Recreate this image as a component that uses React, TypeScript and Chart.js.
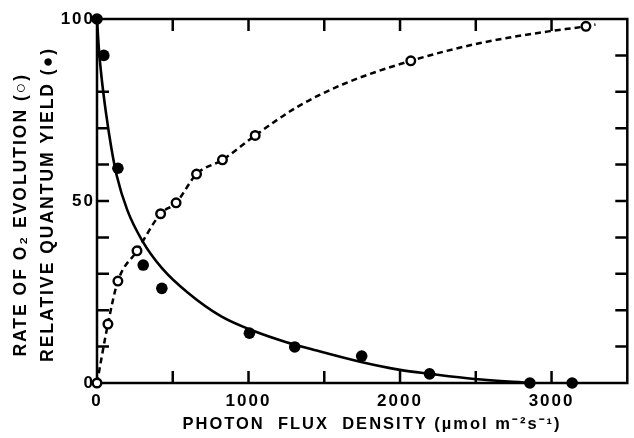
import React, { useEffect, useRef } from "react";
import { Chart, registerables } from "chart.js";

Chart.register(...registerables);

// relative quantum yield (filled dots)
const yieldFlux = [0, 45, 138, 305, 428, 1006, 1305, 1747, 2195, 2857, 3136];
const yieldValues = [100, 90, 59, 32.4, 26, 13.7, 9.9, 7.4, 2.5, 0, 0];

// rate of O2 evolution (open circles)
const o2Flux = [0, 72, 138, 264, 420, 522, 657, 828, 1044, 2071, 3227];
const o2Values = [0, 16.2, 28, 36.3, 46.5, 49.5, 57.4, 61.3, 68, 88.5, 98];

// fitted curves
const yieldCurveFlux = [0, 12, 30, 60, 95, 130, 200, 300, 430, 600, 820, 1040, 1250, 1450, 1750, 2000, 2200, 2490, 2870];
const yieldCurveValues = [100, 92, 84, 74, 64.5, 57, 47.5, 39, 31.5, 24.8, 18.3, 14.2, 11.2, 8.9, 5.7, 3.6, 2.5, 1.1, 0];
const o2CurveFlux = [0, 72, 138, 264, 420, 522, 657, 828, 1044, 1320, 1620, 2071, 2530, 2980, 3227, 3290];
const o2CurveValues = [0, 16.2, 28, 36.3, 46.5, 49.5, 57.4, 61.3, 68, 75.8, 82, 88.5, 93.4, 96.6, 98, 98.5];

const xLabels = [0, 1000, 2000, 3000];
const yLabels = [0, 50, 100];

const FONT = "'Liberation Sans', Arial, sans-serif";
const TICK = 12;

const toPoints = (xs: number[], ys: number[]) => xs.map((x, i) => ({ x, y: ys[i] }));

// box round the plot plus inward tick marks on all four sides
const framePlugin = {
  id: "frame",
  beforeDraw(chart: any) {
    chart.ctx.letterSpacing = "2px";
  },
  beforeDatasetsDraw(chart: any) {
    const { ctx, chartArea: a, scales } = chart;
    ctx.save();
    ctx.strokeStyle = "#000";
    ctx.lineWidth = 2.5;
    ctx.strokeRect(a.left, a.top, a.right - a.left, a.bottom - a.top);
    ctx.beginPath();
    for (let v = 500; v < 3500; v += 500) {
      const px = scales.x.getPixelForValue(v);
      ctx.moveTo(px, a.bottom);
      ctx.lineTo(px, a.bottom - TICK);
      ctx.moveTo(px, a.top);
      ctx.lineTo(px, a.top + TICK);
    }
    for (let v = 10; v < 100; v += 10) {
      const py = scales.y.getPixelForValue(v);
      ctx.moveTo(a.left, py);
      ctx.lineTo(a.left + TICK, py);
      ctx.moveTo(a.right, py);
      ctx.lineTo(a.right - TICK, py);
    }
    ctx.stroke();
    ctx.restore();
  },
};

const App: React.FC = () => {
  const canvasRef = useRef<HTMLCanvasElement | null>(null);

  useEffect(() => {
    if (!canvasRef.current) return;

    const chart = new Chart(canvasRef.current, {
      type: "scatter",
      data: {
        datasets: [
          {
            data: toPoints(yieldFlux, yieldValues),
            pointStyle: "circle",
            pointRadius: 5.8,
            pointBackgroundColor: "#000",
            pointBorderColor: "#000",
            pointBorderWidth: 0,
            clip: false,
          },
          {
            data: toPoints(o2Flux, o2Values),
            pointStyle: "circle",
            pointRadius: 4.3,
            pointBackgroundColor: "#fff",
            pointBorderColor: "#000",
            pointBorderWidth: 2.4,
            clip: false,
          },
          {
            data: toPoints(yieldCurveFlux, yieldCurveValues),
            showLine: true,
            pointRadius: 0,
            borderColor: "#000",
            borderWidth: 2.6,
            cubicInterpolationMode: "monotone",
          },
          {
            data: toPoints(o2CurveFlux, o2CurveValues),
            showLine: true,
            pointRadius: 0,
            borderColor: "#000",
            borderWidth: 2.5,
            borderDash: [6, 4],
            cubicInterpolationMode: "monotone",
          },
        ],
      },
      options: {
        responsive: false,
        animation: false,
        layout: { padding: { left: 0, top: 19, right: 1, bottom: 0 } },
        scales: {
          x: {
            type: "linear",
            min: 0,
            max: 3500,
            afterBuildTicks: (scale: any) => {
              scale.ticks = xLabels.map((value) => ({ value }));
            },
            afterFit: (scale: any) => {
              scale.height = 55;
            },
            grid: { display: false, drawTicks: false },
            border: { display: false },
            ticks: {
              padding: 8,
              color: "#000",
              font: { family: FONT, weight: "bold", size: 17 },
              callback: (value: any) => String(value),
            },
            title: {
              display: true,
              text: "   PHOTON  FLUX  DENSITY (µmol m⁻²s⁻¹)",
              color: "#000",
              font: { family: FONT, weight: "bold", size: 16.5 },
              padding: { top: 0, bottom: 4 },
            },
          },
          y: {
            type: "linear",
            min: 0,
            max: 100,
            afterBuildTicks: (scale: any) => {
              scale.ticks = yLabels.map((value) => ({ value }));
            },
            afterFit: (scale: any) => {
              scale.width = 97;
            },
            grid: { display: false, drawTicks: false },
            border: { display: false },
            ticks: {
              padding: 2,
              color: "#000",
              font: { family: FONT, weight: "bold", size: 17 },
              callback: (value: any) => String(value),
            },
            title: {
              display: true,
              text: ["RATE OF O₂ EVOLUTION (○)    ", "RELATIVE QUANTUM YIELD (●) "],
              color: "#000",
              font: { family: FONT, weight: "bold", size: 17.5, lineHeight: 1.52 },
              padding: { top: 8, bottom: 0 },
            },
          },
        },
        plugins: {
          legend: { display: false },
          tooltip: { enabled: false },
        },
      },
      plugins: [framePlugin],
    });

    return () => {
      chart.destroy();
    };
  }, []);

  return (
    <div style={{ position: "absolute", left: 0, top: 0, width: 634, height: 438, background: "#fff" }}>
      <canvas ref={canvasRef} width={634} height={438} style={{ display: "block" }} />
    </div>
  );
};

export default App;
